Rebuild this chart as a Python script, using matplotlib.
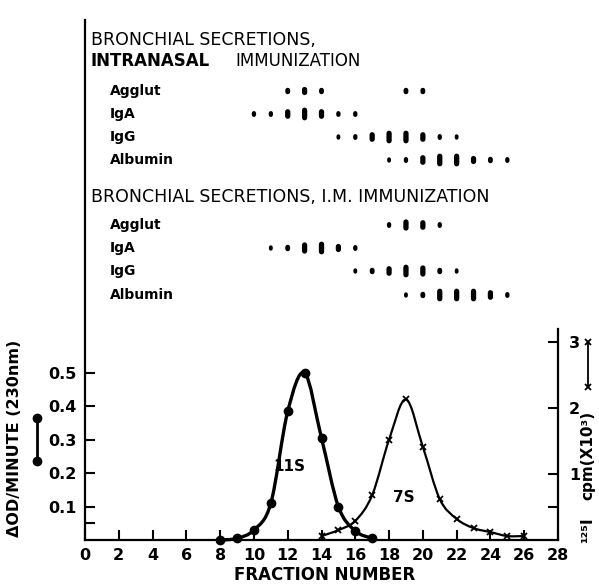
import numpy as np
import matplotlib
matplotlib.use("Agg")
import matplotlib.pyplot as plt
from matplotlib.path import Path
from matplotlib.patches import PathPatch
from matplotlib.lines import Line2D
from matplotlib.transforms import blended_transform_factory

# 11S peak (delta OD/minute, left axis)
frac_11s = [8, 9, 10, 11, 12, 13, 14, 15, 16, 17]
od_11s = [0.0, 0.005, 0.03, 0.11, 0.385, 0.5, 0.305, 0.10, 0.027, 0.005]

# 7S peak (125I cpm x10^3, right axis)
frac_7s = [14, 15, 16, 17, 18, 19, 20, 21, 22, 23, 24, 25, 26]
cpm_7s = [0.06, 0.15, 0.29, 0.68, 1.52, 2.13, 1.41, 0.62, 0.32, 0.18, 0.12, 0.06, 0.06]

row_names = ["Agglut", "IgA", "IgG", "Albumin"]

# intranasal immunization: fractions and relative amount (1 = trace ... 4 = most)
in_agglut_frac = [12, 13, 14, 19, 20]
in_agglut_lvl = [2, 2.5, 2, 2, 2]
in_iga_frac = [10, 11, 12, 13, 14, 15, 16]
in_iga_lvl = [1.5, 1.5, 3, 4, 3, 1.5, 1.5]
in_igg_frac = [15, 16, 17, 18, 19, 20, 21, 22]
in_igg_lvl = [1, 1.5, 3, 4, 4, 3, 1.5, 1]
in_alb_frac = [18, 19, 20, 21, 22, 23, 24, 25]
in_alb_lvl = [1, 1.5, 3, 4, 4, 2.5, 2, 1.5]

# I.M. immunization
im_agglut_frac = [18, 19, 20, 21]
im_agglut_lvl = [1.5, 3.5, 3, 1.5]
im_iga_frac = [11, 12, 13, 14, 15, 16]
im_iga_lvl = [1, 2, 3.5, 4, 2.5, 1.5]
im_igg_frac = [16, 17, 18, 19, 20, 21, 22]
im_igg_lvl = [1, 2, 3, 4, 3.5, 2, 1]
im_alb_frac = [19, 20, 21, 22, 23, 24, 25]
im_alb_lvl = [1, 2, 4, 4, 4, 3, 1.5]

W, H = 599, 585
plt.rcParams['font.family'] = ['DejaVu Sans']
fig = plt.figure(figsize=(W / 100, H / 100), dpi=100)

# axes box in pixels: x 85..558, y(top-down) 20..540
ax = fig.add_axes([85 / W, 45 / H, 473 / W, 520 / H])
ax.set_xlim(0, 28)
ax.set_ylim(0, 520 / 334)
ax2 = ax.twinx()
ax2.set_ylim(0, 520 / 66)

for s in ['top', 'right']:
    ax.spines[s].set_visible(False)
for s in ['top', 'left', 'bottom']:
    ax2.spines[s].set_visible(False)
for a in (ax, ax2):
    for s in a.spines.values():
        s.set_linewidth(1.6)
ax2.spines['right'].set_bounds(0, 3.2)

bold = dict(fontweight='bold')
ax.set_xticks(np.arange(0, 29, 2))
ax.set_yticks([0.1, 0.2, 0.3, 0.4, 0.5])
ax.set_yticks([0.05], minor=True)
ax.tick_params(axis='both', direction='in', length=7, width=1.5, labelsize=11.5, pad=6)
ax.tick_params(axis='y', which='minor', direction='in', length=7, width=1.5)
ax2.set_yticks([1, 2, 3])
ax2.set_yticks([0.5], minor=True)
ax2.tick_params(axis='y', direction='in', length=7, width=1.5, labelsize=11.5, pad=8)
ax2.tick_params(axis='y', which='minor', direction='in', length=7, width=1.5)
for lab in ax.get_xticklabels() + ax.get_yticklabels() + ax2.get_yticklabels():
    lab.set_fontweight('bold')


def smooth_path(xs, ys):
    # Catmull-Rom through the points, drawn as cubic Beziers
    xs = np.asarray(xs, float)
    ys = np.asarray(ys, float)
    pts = np.column_stack([xs, ys])
    verts = [pts[0]]
    codes = [Path.MOVETO]
    for i in range(len(pts) - 1):
        p0 = pts[i - 1] if i > 0 else pts[i]
        p1, p2 = pts[i], pts[i + 1]
        p3 = pts[i + 2] if i + 2 < len(pts) else pts[i + 1]
        c1 = p1 + (p2 - p0) / 6
        c2 = p2 - (p3 - p1) / 6
        verts += [c1, c2, p2]
        codes += [Path.CURVE4] * 3
    return Path(verts, codes)


ax.add_patch(PathPatch(smooth_path(frac_11s, od_11s), fill=False, lw=2.4,
                       ec='black', clip_on=False))
ax.plot(frac_11s, od_11s, 'o', color='black', ms=6, clip_on=False, zorder=5)

ax2.add_patch(PathPatch(smooth_path(frac_7s, cpm_7s), fill=False, lw=1.6,
                        ec='black', clip_on=False))
ax2.plot(frac_7s, cpm_7s, 'x', color='black', ms=5, mew=1.3, clip_on=False, zorder=5)

ax.text(12.1, 0.22, "11S", ha='center', va='center', fontsize=11, **bold)
ax.text(18.9, 0.126, "7S", ha='center', va='center', fontsize=11, **bold)

# top panel: x in fraction numbers, y in figure pixels
tr = blended_transform_factory(ax.transData, fig.transFigure)


def fy(ypix):
    return 1 - ypix / H


def draw_row(fracs, lvls, ypix):
    for x, lv in zip(fracs, lvls):
        half = max(0.8, 1.5 * (lv - 1.5)) / H
        lw = min(3.8, 2.0 + 0.75 * lv)
        ax.add_line(Line2D([x, x], [fy(ypix) - half, fy(ypix) + half], transform=tr,
                           color='black', lw=lw, solid_capstyle='round', clip_on=False,
                           snap=False))


fig.text(91 / W, fy(40), "BRONCHIAL SECRETIONS,", fontsize=12.5, va='center')
fig.text(91 / W, fy(61), "INTRANASAL", fontsize=12, va='center', **bold)
fig.text(235 / W, fy(61), "IMMUNIZATION", fontsize=12, va='center')
fig.text(91 / W, fy(197), "BRONCHIAL SECRETIONS, I.M. IMMUNIZATION", fontsize=12.5,
         va='center')

in_rows = [(in_agglut_frac, in_agglut_lvl), (in_iga_frac, in_iga_lvl),
           (in_igg_frac, in_igg_lvl), (in_alb_frac, in_alb_lvl)]
im_rows = [(im_agglut_frac, im_agglut_lvl), (im_iga_frac, im_iga_lvl),
           (im_igg_frac, im_igg_lvl), (im_alb_frac, im_alb_lvl)]
in_y = [91, 114, 137, 160]
im_y = [225, 248, 271, 295]
for name, (f, l), yp in zip(row_names, in_rows, in_y):
    fig.text(110 / W, fy(yp), name, fontsize=10, va='center', **bold)
    draw_row(f, l, yp)
for name, (f, l), yp in zip(row_names, im_rows, im_y):
    fig.text(110 / W, fy(yp), name, fontsize=10, va='center', **bold)
    draw_row(f, l, yp)

# axis titles
fig.text(325 / W, fy(575), "FRACTION NUMBER", ha='center', va='center', fontsize=12, **bold)
fig.text(15 / W, fy(438), "ΔOD/MINUTE (230nm)", rotation=90, ha='center', va='center',
         fontsize=11.5, **bold)
fig.add_artist(Line2D([37 / W, 37 / W], [fy(418), fy(461)], transform=fig.transFigure,
                      color='black', lw=2, marker='o', ms=6))
fig.text(588 / W, fy(530), "¹²⁵I", rotation=90, ha='center', va='center', fontsize=11, **bold)
fig.text(588 / W, fy(455), "cpm(X10³)", rotation=90, ha='center', va='center',
         fontsize=11, **bold)
fig.add_artist(Line2D([588 / W, 588 / W], [fy(342), fy(387)], transform=fig.transFigure,
                      color='black', lw=1.3, marker='x', ms=5, mew=1.3))

fig.savefig("out.png", dpi=100)
